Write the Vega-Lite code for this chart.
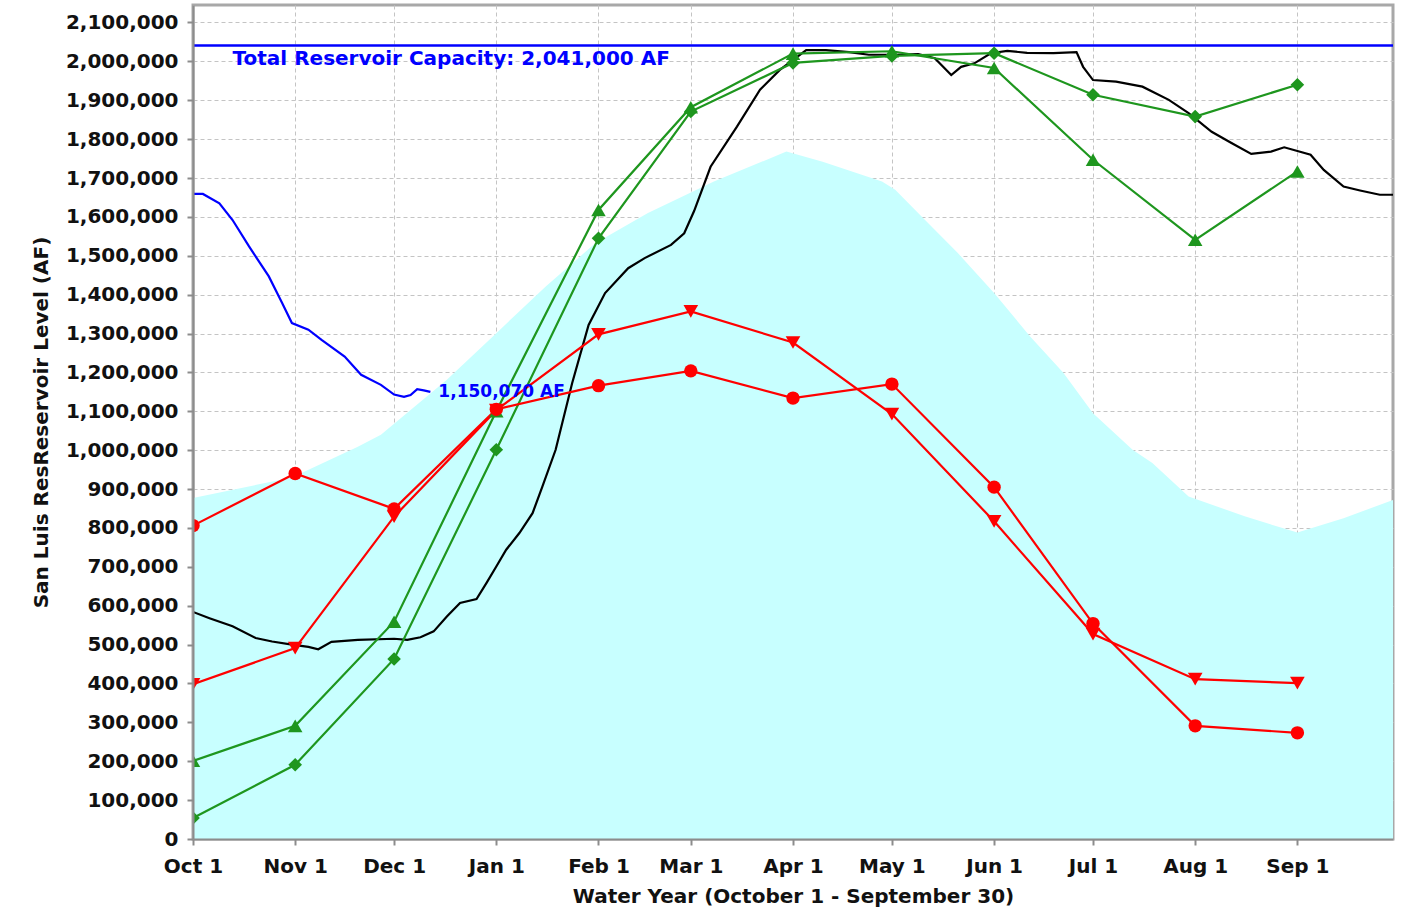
{
  "$schema": "https://vega.github.io/schema/vega-lite/v6.json",
  "width": 1200,
  "height": 834,
  "autosize": "none",
  "padding": {"left": 193, "top": 5, "right": 16, "bottom": 70},
  "background": "white",
  "config": {
    "font": "DejaVu Sans",
    "view": {"stroke": "#A8A8A8", "strokeWidth": 3},
    "axis": {
      "labelFont": "DejaVu Sans",
      "labelFontWeight": "bold",
      "labelFontSize": 20,
      "labelColor": "#111111",
      "titleFont": "DejaVu Sans",
      "titleFontWeight": "bold",
      "titleFontSize": 20,
      "titleColor": "#111111",
      "domainColor": "#8C8C8C",
      "domainWidth": 2,
      "tickColor": "#8C8C8C",
      "tickWidth": 2,
      "tickSize": 6,
      "gridColor": "#C4C4C4",
      "gridDash": [4, 3],
      "gridWidth": 1,
      "labelFlush": false,
      "labelOverlap": false
    }
  },
  "datasets": {
    "area": [
      {"date": "2021-10-01", "value": 877000},
      {"date": "2021-10-31", "value": 930000},
      {"date": "2021-11-20", "value": 1009000},
      {"date": "2021-11-27", "value": 1040000},
      {"date": "2021-12-17", "value": 1181000},
      {"date": "2022-01-01", "value": 1301000},
      {"date": "2022-01-16", "value": 1421000},
      {"date": "2022-01-31", "value": 1532000},
      {"date": "2022-02-16", "value": 1610000},
      {"date": "2022-03-08", "value": 1691000},
      {"date": "2022-03-30", "value": 1768000},
      {"date": "2022-04-10", "value": 1742000},
      {"date": "2022-04-28", "value": 1691000},
      {"date": "2022-05-02", "value": 1670000},
      {"date": "2022-05-10", "value": 1601000},
      {"date": "2022-05-21", "value": 1507000},
      {"date": "2022-06-01", "value": 1404000},
      {"date": "2022-06-12", "value": 1292000},
      {"date": "2022-06-22", "value": 1199000},
      {"date": "2022-07-01", "value": 1095000},
      {"date": "2022-07-13", "value": 1001000},
      {"date": "2022-07-19", "value": 967000},
      {"date": "2022-07-30", "value": 881000},
      {"date": "2022-08-16", "value": 830000},
      {"date": "2022-09-01", "value": 788000},
      {"date": "2022-09-15", "value": 825000},
      {"date": "2022-09-30", "value": 872000}
    ],
    "capacity": [
      {"date": "2021-10-01", "value": 2041000},
      {"date": "2022-09-30", "value": 2041000}
    ],
    "hist": [
      {"date": "2021-10-01", "value": 584000},
      {"date": "2021-10-06", "value": 568000},
      {"date": "2021-10-13", "value": 547000},
      {"date": "2021-10-20", "value": 517000},
      {"date": "2021-10-25", "value": 508000},
      {"date": "2021-10-31", "value": 500000},
      {"date": "2021-11-05", "value": 494000},
      {"date": "2021-11-08", "value": 488000},
      {"date": "2021-11-12", "value": 507000},
      {"date": "2021-11-20", "value": 512000},
      {"date": "2021-12-01", "value": 515000},
      {"date": "2021-12-05", "value": 512000},
      {"date": "2021-12-09", "value": 519000},
      {"date": "2021-12-13", "value": 534000},
      {"date": "2021-12-17", "value": 572000},
      {"date": "2021-12-21", "value": 607000},
      {"date": "2021-12-26", "value": 617000},
      {"date": "2021-12-29", "value": 658000},
      {"date": "2022-01-01", "value": 701000},
      {"date": "2022-01-04", "value": 744000},
      {"date": "2022-01-08", "value": 787000},
      {"date": "2022-01-12", "value": 838000},
      {"date": "2022-01-15", "value": 907000},
      {"date": "2022-01-19", "value": 1001000},
      {"date": "2022-01-24", "value": 1172000},
      {"date": "2022-01-29", "value": 1322000},
      {"date": "2022-02-03", "value": 1404000},
      {"date": "2022-02-10", "value": 1468000},
      {"date": "2022-02-15", "value": 1494000},
      {"date": "2022-02-23", "value": 1528000},
      {"date": "2022-02-27", "value": 1558000},
      {"date": "2022-03-02", "value": 1615000},
      {"date": "2022-03-07", "value": 1729000},
      {"date": "2022-03-15", "value": 1832000},
      {"date": "2022-03-22", "value": 1927000},
      {"date": "2022-03-28", "value": 1978000},
      {"date": "2022-04-05", "value": 2029000},
      {"date": "2022-04-11", "value": 2029000},
      {"date": "2022-04-18", "value": 2024000},
      {"date": "2022-04-24", "value": 2017000},
      {"date": "2022-05-02", "value": 2017000},
      {"date": "2022-05-09", "value": 2019000},
      {"date": "2022-05-14", "value": 2008000},
      {"date": "2022-05-19", "value": 1965000},
      {"date": "2022-05-22", "value": 1986000},
      {"date": "2022-05-26", "value": 1995000},
      {"date": "2022-05-31", "value": 2021000},
      {"date": "2022-06-05", "value": 2027000},
      {"date": "2022-06-11", "value": 2022000},
      {"date": "2022-06-19", "value": 2021000},
      {"date": "2022-06-26", "value": 2024000},
      {"date": "2022-06-28", "value": 1986000},
      {"date": "2022-07-01", "value": 1952000},
      {"date": "2022-07-08", "value": 1948000},
      {"date": "2022-07-16", "value": 1935000},
      {"date": "2022-07-24", "value": 1901000},
      {"date": "2022-07-30", "value": 1867000},
      {"date": "2022-08-06", "value": 1819000},
      {"date": "2022-08-12", "value": 1790000},
      {"date": "2022-08-18", "value": 1762000},
      {"date": "2022-08-24", "value": 1768000},
      {"date": "2022-08-28", "value": 1779000},
      {"date": "2022-09-05", "value": 1760000},
      {"date": "2022-09-09", "value": 1721000},
      {"date": "2022-09-15", "value": 1678000},
      {"date": "2022-09-20", "value": 1668000},
      {"date": "2022-09-26", "value": 1657000},
      {"date": "2022-09-30", "value": 1657000}
    ],
    "current": [
      {"date": "2021-10-01", "value": 1659000},
      {"date": "2021-10-04", "value": 1659000},
      {"date": "2021-10-09", "value": 1635000},
      {"date": "2021-10-13", "value": 1592000},
      {"date": "2021-10-18", "value": 1524000},
      {"date": "2021-10-24", "value": 1447000},
      {"date": "2021-10-28", "value": 1379000},
      {"date": "2021-10-31", "value": 1327000},
      {"date": "2021-11-05", "value": 1310000},
      {"date": "2021-11-09", "value": 1284000},
      {"date": "2021-11-16", "value": 1241000},
      {"date": "2021-11-21", "value": 1194000},
      {"date": "2021-11-27", "value": 1168000},
      {"date": "2021-12-01", "value": 1143000},
      {"date": "2021-12-04", "value": 1137000},
      {"date": "2021-12-06", "value": 1142000},
      {"date": "2021-12-08", "value": 1157000},
      {"date": "2021-12-10", "value": 1154000},
      {"date": "2021-12-12", "value": 1150070}
    ],
    "forecast": [
      {"series": "S1", "date": "2021-10-01", "value": 201000},
      {"series": "S1", "date": "2021-11-01", "value": 291000},
      {"series": "S1", "date": "2021-12-01", "value": 559000},
      {"series": "S1", "date": "2022-01-01", "value": 1100000},
      {"series": "S1", "date": "2022-02-01", "value": 1618000},
      {"series": "S1", "date": "2022-03-01", "value": 1882000},
      {"series": "S1", "date": "2022-04-01", "value": 2020000},
      {"series": "S1", "date": "2022-05-01", "value": 2026000},
      {"series": "S1", "date": "2022-06-01", "value": 1983000},
      {"series": "S1", "date": "2022-07-01", "value": 1747000},
      {"series": "S1", "date": "2022-08-01", "value": 1541000},
      {"series": "S1", "date": "2022-09-01", "value": 1717000},
      {"series": "S2", "date": "2021-10-01", "value": 54000},
      {"series": "S2", "date": "2021-11-01", "value": 191000},
      {"series": "S2", "date": "2021-12-01", "value": 463000},
      {"series": "S2", "date": "2022-01-01", "value": 1001000},
      {"series": "S2", "date": "2022-02-01", "value": 1545000},
      {"series": "S2", "date": "2022-03-01", "value": 1871000},
      {"series": "S2", "date": "2022-04-01", "value": 1996000},
      {"series": "S2", "date": "2022-05-01", "value": 2014000},
      {"series": "S2", "date": "2022-06-01", "value": 2021000},
      {"series": "S2", "date": "2022-07-01", "value": 1914000},
      {"series": "S2", "date": "2022-08-01", "value": 1858000},
      {"series": "S2", "date": "2022-09-01", "value": 1940000},
      {"series": "S3", "date": "2021-10-01", "value": 806000},
      {"series": "S3", "date": "2021-11-01", "value": 940000},
      {"series": "S3", "date": "2021-12-01", "value": 849000},
      {"series": "S3", "date": "2022-01-01", "value": 1105000},
      {"series": "S3", "date": "2022-02-01", "value": 1166000},
      {"series": "S3", "date": "2022-03-01", "value": 1204000},
      {"series": "S3", "date": "2022-04-01", "value": 1134000},
      {"series": "S3", "date": "2022-05-01", "value": 1170000},
      {"series": "S3", "date": "2022-06-01", "value": 905000},
      {"series": "S3", "date": "2022-07-01", "value": 554000},
      {"series": "S3", "date": "2022-08-01", "value": 291000},
      {"series": "S3", "date": "2022-09-01", "value": 273000},
      {"series": "S4", "date": "2021-10-01", "value": 398000},
      {"series": "S4", "date": "2021-11-01", "value": 491000},
      {"series": "S4", "date": "2021-12-01", "value": 829000},
      {"series": "S4", "date": "2022-01-01", "value": 1103000},
      {"series": "S4", "date": "2022-02-01", "value": 1298000},
      {"series": "S4", "date": "2022-03-01", "value": 1357000},
      {"series": "S4", "date": "2022-04-01", "value": 1277000},
      {"series": "S4", "date": "2022-05-01", "value": 1093000},
      {"series": "S4", "date": "2022-06-01", "value": 817000},
      {"series": "S4", "date": "2022-07-01", "value": 527000},
      {"series": "S4", "date": "2022-08-01", "value": 411000},
      {"series": "S4", "date": "2022-09-01", "value": 401000}
    ],
    "labels": [
      {"date": "2021-10-13", "value": 2006000, "label": "Total Reservoir Capacity: 2,041,000 AF", "kind": "capacity"},
      {"date": "2021-12-12", "value": 1150070, "label": "1,150,070 AF", "kind": "current"}
    ]
  },
  "layer": [
    {
      "data": {"name": "area"},
      "mark": {"type": "area", "color": "#C8FFFF", "opacity": 1, "clip": true},
      "encoding": {
        "x": {
          "field": "date", "type": "temporal",
          "scale": {"type": "utc", "domain": [{"year": 2021, "month": 10, "date": 1, "utc": true}, {"year": 2022, "month": 9, "date": 30, "utc": true}], "nice": false},
          "axis": {"orient": "bottom", "grid": true, "domain": false, "labels": false, "ticks": false, "title": null, "tickCount": {"interval": "month", "step": 1}, "zindex": 0}
        },
        "y": {
          "field": "value", "type": "quantitative",
          "scale": {"domain": [0, 2145000], "nice": false, "zero": true},
          "axis": {"orient": "left", "grid": true, "domain": false, "labels": false, "ticks": false, "title": null, "values": [0, 100000, 200000, 300000, 400000, 500000, 600000, 700000, 800000, 900000, 1000000, 1100000, 1200000, 1300000, 1400000, 1500000, 1600000, 1700000, 1800000, 1900000, 2000000, 2100000], "zindex": 0}
        }
      }
    },
    {
      "encoding": {
        "x": {
          "field": "date", "type": "temporal", "title": "Water Year (October 1 - September 30)",
          "scale": {"type": "utc", "domain": [{"year": 2021, "month": 10, "date": 1, "utc": true}, {"year": 2022, "month": 9, "date": 30, "utc": true}], "nice": false},
          "axis": {"orient": "bottom", "grid": false, "format": "%b %-d", "tickCount": {"interval": "month", "step": 1}, "labelPadding": 11, "titlePadding": 10, "zindex": 1}
        },
        "y": {
          "field": "value", "type": "quantitative", "title": "San Luis ResReservoir Level (AF)",
          "scale": {"domain": [0, 2145000], "nice": false, "zero": true},
          "axis": {"orient": "left", "grid": false, "values": [0, 100000, 200000, 300000, 400000, 500000, 600000, 700000, 800000, 900000, 1000000, 1100000, 1200000, 1300000, 1400000, 1500000, 1600000, 1700000, 1800000, 1900000, 2000000, 2100000], "format": ",d", "labelPadding": 9, "titlePadding": 14, "zindex": 1}
        }
      },
      "layer": [
        {
          "data": {"name": "capacity"},
          "mark": {"type": "line", "color": "#0000FF", "strokeWidth": 2.5, "clip": true}
        },
        {
          "data": {"name": "hist"},
          "mark": {"type": "line", "color": "#000000", "strokeWidth": 2.2, "clip": true}
        },
        {
          "data": {"name": "current"},
          "mark": {"type": "line", "color": "#0000FF", "strokeWidth": 2.2, "clip": true}
        },
        {
          "data": {"name": "forecast"},
          "mark": {"type": "line", "strokeWidth": 2.2, "clip": true},
          "encoding": {
            "color": {"field": "series", "type": "nominal", "scale": {"domain": ["S1", "S2", "S3", "S4"], "range": ["#1E961E", "#1E961E", "#FF0000", "#FF0000"]}, "legend": null},
            "detail": {"field": "series"}
          }
        },
        {
          "data": {"name": "forecast"},
          "transform": [{"filter": "datum.series == 'S1'"}],
          "mark": {"type": "point", "filled": true, "opacity": 1, "clip": true, "shape": "triangle-up", "size": 210, "color": "#1E961E"}
        },
        {
          "data": {"name": "forecast"},
          "transform": [{"filter": "datum.series == 'S2'"}],
          "mark": {"type": "point", "filled": true, "opacity": 1, "clip": true, "shape": "diamond", "size": 185, "color": "#1E961E"}
        },
        {
          "data": {"name": "forecast"},
          "transform": [{"filter": "datum.series == 'S3'"}],
          "mark": {"type": "point", "filled": true, "opacity": 1, "clip": true, "shape": "circle", "size": 180, "color": "#FF0000"}
        },
        {
          "data": {"name": "forecast"},
          "transform": [{"filter": "datum.series == 'S4'"}],
          "mark": {"type": "point", "filled": true, "opacity": 1, "clip": true, "shape": "triangle-down", "size": 215, "color": "#FF0000"}
        },
        {
          "data": {"name": "labels"},
          "transform": [{"filter": "datum.kind == 'capacity'"}],
          "mark": {"type": "text", "align": "left", "baseline": "middle", "font": "DejaVu Sans", "fontWeight": "bold", "fontSize": 20, "color": "#0000FF"},
          "encoding": {"text": {"field": "label"}}
        },
        {
          "data": {"name": "labels"},
          "transform": [{"filter": "datum.kind == 'current'"}],
          "mark": {"type": "text", "align": "left", "baseline": "middle", "dx": 8, "font": "DejaVu Sans", "fontWeight": "bold", "fontSize": 17, "color": "#0000FF"},
          "encoding": {"text": {"field": "label"}}
        }
      ]
    }
  ],
  "resolve": {"axis": {"x": "independent", "y": "independent"}}
}
